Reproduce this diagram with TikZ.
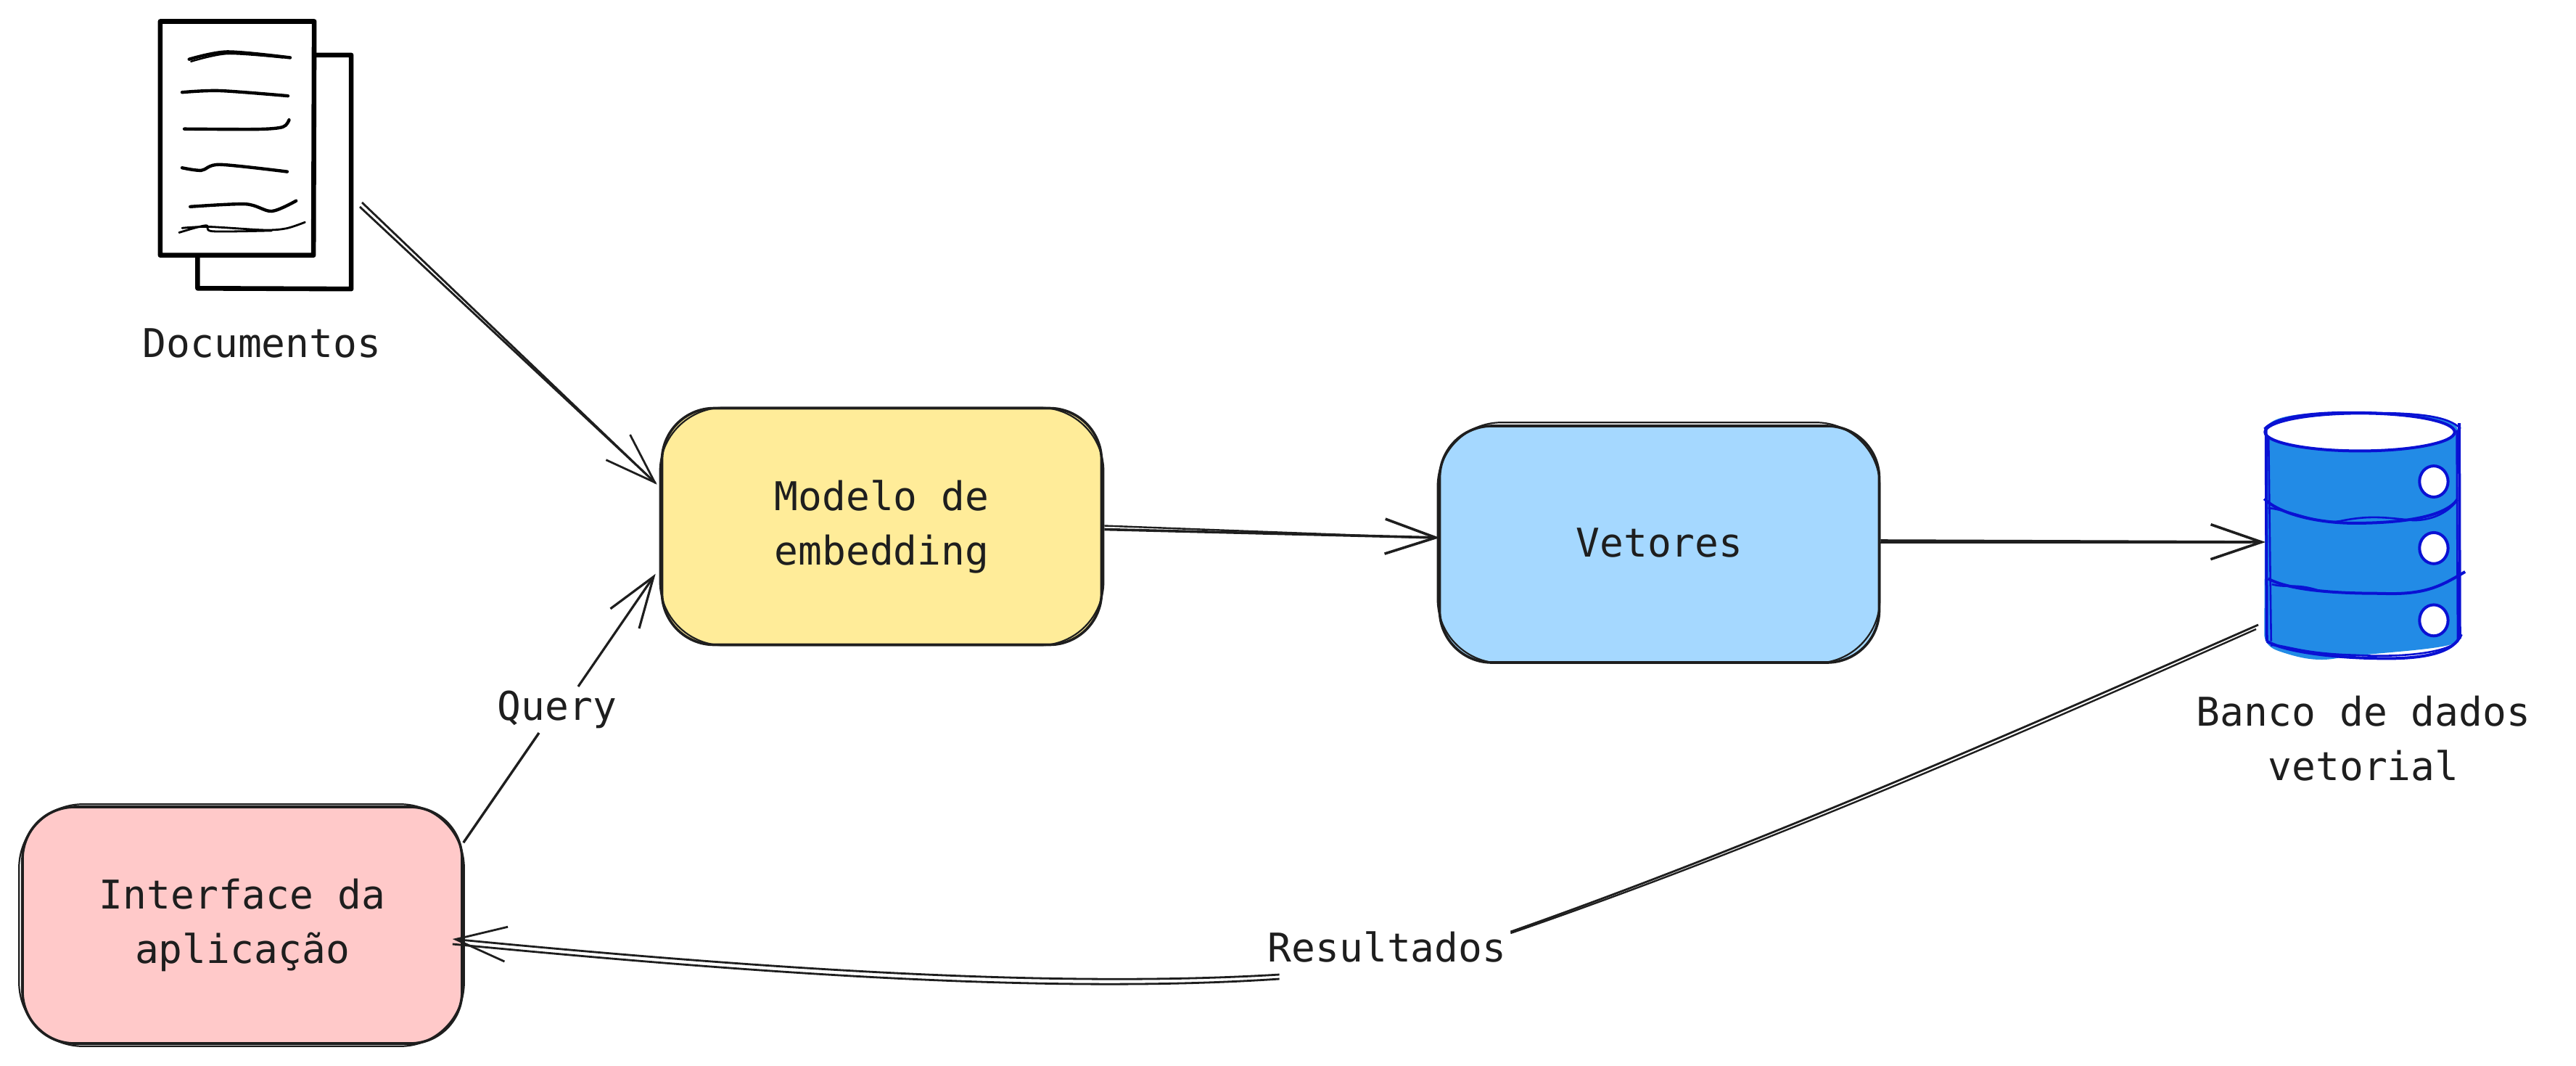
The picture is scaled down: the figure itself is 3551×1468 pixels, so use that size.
\documentclass[tikz,border=0pt]{standalone}
\usepackage{fontspec}
\setmainfont{DejaVu Sans Mono}
\usetikzlibrary{arrows.meta,calc}
\definecolor{ink}{HTML}{1E1E1E}
\definecolor{dbfill}{HTML}{228BE6}
\definecolor{dbline}{HTML}{0A11D3}
\definecolor{yellowbox}{HTML}{FFEC99}
\definecolor{bluebox}{HTML}{A5D8FF}
\definecolor{redbox}{HTML}{FFC9C9}
\tikzset{
  x=0.5pt,y=-0.5pt,
  lbl/.style={inner sep=0pt,text=ink,font=\fontsize{27.3}{37.5}\selectfont,align=center},
  gaplbl/.style={lbl,outer sep=3pt},
  card/.style={draw=ink,line width=1.8pt,rounded corners=36pt,minimum width=303pt,minimum height=163pt,lbl},
  ghost/.style={draw=ink,line width=1.1pt,rounded corners=44pt},
  conn/.style={draw=ink,line width=1.8pt,-{Straight Barb[length=35pt,width=24pt]}},
  connplain/.style={draw=ink,line width=1.4pt},
  page/.style={draw=black,line width=3.3pt,line join=round},
  scrib/.style={draw=black,line width=2.2pt,line cap=round},
  dbs/.style={draw=dbline,line width=2pt},
  dbt/.style={draw=dbline,line width=1.3pt}
}
\begin{document}
\begin{tikzpicture}
\path[use as bounding box,fill=white] (0,0) rectangle (3551,1468);

% documents icon
\begin{scope}[shift={(150,0)},xscale=0.5102,yscale=0.4464]
  \draw[page,fill=white] (240,170) -- (655,170) -- (655,892) -- (240,890) -- cycle;
  \draw[page,fill=white] (139,66) -- (555,66) -- (553,788) -- (139,788) -- cycle;
  \draw[scrib] plot[smooth] coordinates {(217,183) (320,160) (490,178)};
  \draw[scrib,line width=1.2pt] plot[smooth] coordinates {(222,190) (320,166) (470,178)};
  \draw[scrib] plot[smooth] coordinates {(198,285) (300,280) (484,296)};
  \draw[scrib] plot[smooth] coordinates {(204,398) (400,399) (470,392) (487,370)};
  \draw[scrib] plot[smooth] coordinates {(198,518) (250,526) (300,508) (482,530)};
  \draw[scrib] plot[smooth] coordinates {(220,638) (370,630) (440,652) (506,620)};
  \draw[scrib,line width=1.4pt] plot[smooth] coordinates {(198,704) (270,700) (420,710) (480,705) (530,686)};
  \draw[scrib,line width=1.4pt] plot[smooth] coordinates {(190,718) (262,696) (280,714) (440,712)};
\end{scope}
\coordinate (docout) at (499,279);
\coordinate (docoutb) at (496,285);
\node[lbl] (doclabel) at (361,473) {Documentos};

% boxes
\node[card,fill=yellowbox] (model) at (1215.5,725.5) {Modelo de\\embedding};
\draw[ghost] ($(model.north west)+(-1,1)$) rectangle ($(model.south east)+(1,-1)$);
\node[card,fill=bluebox] (vec) at (2287.5,750) {\raisebox{2.5pt}{Vetores}};
\draw[ghost] ($(vec.north west)+(-1,-3)$) rectangle ($(vec.south east)+(-1,-1)$);
\node[card,fill=redbox] (ui) at (334,1275) {Interface da\\aplicação};
\draw[ghost] ($(ui.north west)+(-3,-2)$) rectangle ($(ui.south east)+(1,2)$);

% database
\begin{scope}[shift={(3000,520)},xscale=0.3514,yscale=0.3827]
  \fill[dbfill] (350,190) .. controls (360,135) and (500,125) .. (720,125) .. controls (950,125) and (1090,135) .. (1105,190)
     -- (1105,950) .. controls (1080,975) and (900,985) .. (660,1005) .. controls (560,1030) and (480,1010) .. (400,985) .. controls (370,975) and (350,960) .. (345,930) -- cycle;
  \draw[dbs,fill=white] (720,197) ellipse [x radius=372,y radius=68];
  \draw[dbt] (345,185) .. controls (400,130) and (600,120) .. (800,128) .. controls (950,130) and (1070,140) .. (1115,185);
  \draw[dbs] (352,190) -- (355,950);
  \draw[dbt] (362,220) -- (372,950);
  \draw[dbs] (1110,165) -- (1112,940);
  \draw[dbt] (1100,190) -- (1104,950);
  \draw[dbs] (345,437) .. controls (400,490) and (550,525) .. (700,525) .. controls (850,525) and (1050,510) .. (1102,440);
  \draw[dbt] (360,470) .. controls (450,480) and (560,530) .. (640,518) .. controls (760,495) and (820,505) .. (930,515) .. controls (1000,515) and (1060,490) .. (1095,450);
  \draw[dbs] (360,725) .. controls (450,770) and (650,778) .. (800,778) .. controls (980,785) and (1040,750) .. (1133,700);
  \draw[dbt] (375,745) .. controls (430,760) and (470,740) .. (560,768);
  \draw[dbs] (355,950) .. controls (420,985) and (600,1010) .. (800,1012) .. controls (980,1015) and (1090,990) .. (1118,925);
  \draw[dbt] (370,965) .. controls (420,960) and (480,995) .. (700,1000) .. controls (900,1010) and (1060,990) .. (1105,950);
  \foreach \h in {375,615,875}{
    \draw[dbs,fill=white] (1010,\h) ellipse [x radius=56,y radius=56];
  }
\end{scope}
\coordinate (dbin) at (3123,747);
\coordinate (dbout) at (3113,861);
\coordinate (dboutb) at (3110,867);
\node[lbl] (dblabel) at (3258,1018) {Banco de dados\\vetorial};

% edge labels
\node[gaplbl] (query) at (768,978) {Query};
\node[gaplbl] (res) at (1912,1305) {Resultados};

% connectors
\draw[conn,line width=1.4pt] (docout) -- ($(model.north west)+(-5,107)$);
\draw[connplain] (docoutb) -- ($(model.north west)+(-7,105)$);

\draw[conn] ($(model.east)+(2,4)$) -- ($(vec.west)+(2,-9)$);
\draw[connplain,line width=1.2pt] ($(model.east)+(2,-1)$) -- ($(vec.west)+(-20,-9)$);

\draw[conn] ($(vec.east)+(0,-5)$) -- (dbin);
\draw[connplain,line width=1.2pt] ($(vec.east)+(0,-2)$) -- ($(dbin)+(-20,1)$);

\draw[connplain,line width=1.7pt] ($(ui.north east)+(0,51)$) -- ($(query.south)+(-25,0)$);
\draw[conn,line width=1.6pt] ($(query.north)+(29,0)$) -- ($(model.north west)+(-7,230)$);

\draw[connplain] (dbout) .. controls (2770,1012) and (2420,1165) .. ($(res.east)+(0,-21)$);
\draw[connplain,line width=1.2pt] (dboutb) .. controls (2770,1018) and (2420,1170) .. ($(res.east)+(0,-19)$);
\draw[conn,line width=1.4pt] ($(res.west)+(22,38)$) .. controls (1450,1362) and (1050,1335) .. ($(ui.east)+(-15,19)$);
\draw[connplain] ($(res.west)+(22,44)$) .. controls (1450,1370) and (1050,1342) .. ($(ui.east)+(-15,26)$);
\end{tikzpicture}
\end{document}
